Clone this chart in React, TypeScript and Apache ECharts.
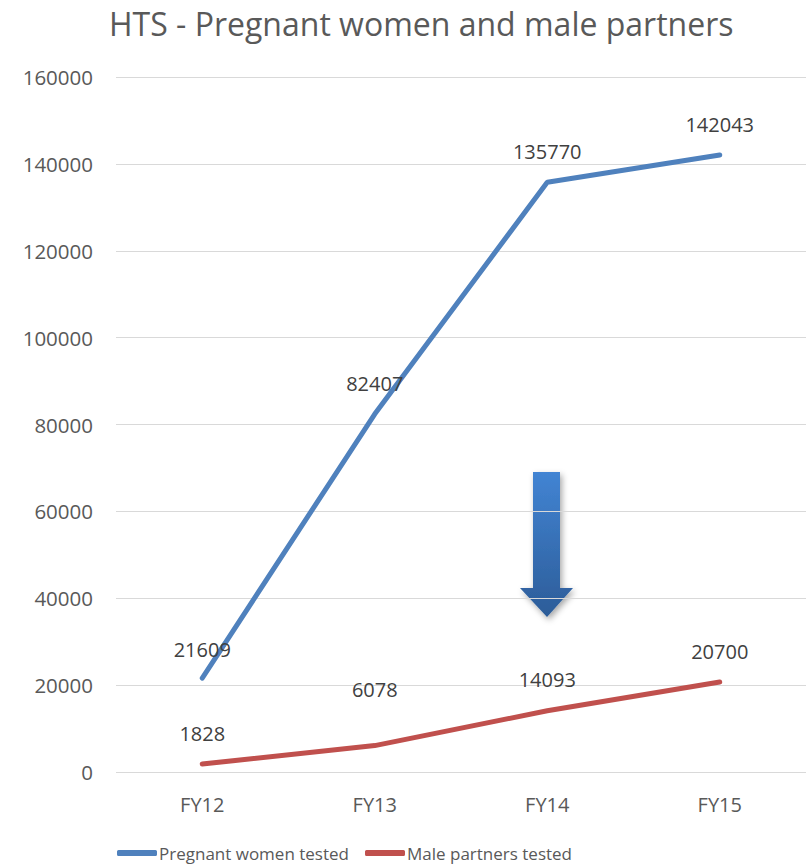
import React, { useEffect, useRef } from "react";
import * as echarts from "echarts";

const categories = ["FY12", "FY13", "FY14", "FY15"];
const pregnantWomen = [21609, 82407, 135770, 142043];
const malePartners = [1828, 6078, 14093, 20700];
const yTicks = [0, 20000, 40000, 60000, 80000, 100000, 120000, 140000, 160000];
const pregnantLabelOffsets = [[0, 2], [0, 0], [0, 0], [0, 0]];
const maleLabelOffsets = [[0, 0], [0, -25], [0, 0], [0, 0]];

const FONT = "Open Sans, sans-serif";

export default function App() {
  const ref = useRef<HTMLDivElement>(null);
  useEffect(() => {
    const chart = echarts.init(ref.current!, null, { renderer: "svg" });
    const mk = (vals: number[], offs: number[][]) =>
      vals.map((v, i) => ({ value: v, label: { offset: offs[i] } }));
    const labelStyle = {
      show: true,
      position: "top",
      fontFamily: FONT,
      fontSize: 20,
      color: "#404040",
      distance: 21,
    };
    const legendText = {
      fontFamily: FONT,
      fontSize: 17,
      lineHeight: 20,
      color: "#595959",
      padding: [0, 0, 0, -3],
    };
    chart.setOption({
      animation: false,
      backgroundColor: "#ffffff",
      title: {
        text: "HTS - Pregnant women and male partners",
        left: 104,
        top: 2,
        textStyle: { fontFamily: FONT, fontSize: 32, fontWeight: "normal", color: "#595959" },
      },
      grid: { left: 116, right: 2, top: 77, bottom: 94, containLabel: false },
      xAxis: {
        type: "category",
        data: categories,
        boundaryGap: true,
        axisLine: { show: false },
        axisTick: { show: false },
        axisLabel: { fontFamily: FONT, fontSize: 20, color: "#595959", margin: 22 },
      },
      yAxis: {
        type: "value",
        min: yTicks[0],
        max: yTicks[yTicks.length - 1],
        interval: 20000,
        axisLine: { show: false },
        axisTick: { show: false },
        splitLine: { lineStyle: { color: "#d9d9d9", width: 1 } },
        axisLabel: {
          fontFamily: FONT,
          fontSize: 20.5,
          color: "#595959",
          margin: 23,
          formatter: (v: number) => String(v),
        },
      },
      legend: [
        {
          left: 117,
          top: 843,
          padding: 0,
          itemWidth: 40,
          itemHeight: 6,
          icon: "roundRect",
          textStyle: legendText,
          data: ["Pregnant women tested"],
        },
        {
          left: 365,
          top: 843,
          padding: 0,
          itemWidth: 40,
          itemHeight: 6,
          icon: "roundRect",
          textStyle: legendText,
          data: ["Male partners tested"],
        },
      ],
      series: [
        {
          name: "Pregnant women tested",
          type: "line",
          data: mk(pregnantWomen, pregnantLabelOffsets),
          symbol: "circle",
          symbolSize: 0,
          showSymbol: true,
          lineStyle: { color: "#4f81bd", width: 5, cap: "round" },
          itemStyle: { color: "#4f81bd" },
          label: labelStyle,
        },
        {
          name: "Male partners tested",
          type: "line",
          data: mk(malePartners, maleLabelOffsets),
          symbol: "circle",
          symbolSize: 0,
          showSymbol: true,
          lineStyle: { color: "#c0504d", width: 5, cap: "round" },
          itemStyle: { color: "#c0504d" },
          label: labelStyle,
        },
      ],
      graphic: [
        {
          type: "polygon",
          shape: {
            points: [
              [533, 472], [560, 472], [560, 588], [573, 588], [547, 617], [520, 588], [533, 588],
            ],
          },
          style: {
            fill: new echarts.graphic.LinearGradient(0, 0, 0, 1, [
              { offset: 0, color: "#4284d3" },
              { offset: 1, color: "#2c5c98" },
            ]),
            shadowBlur: 6,
            shadowOffsetX: 2,
            shadowOffsetY: 3,
            shadowColor: "rgba(0,0,0,0.35)",
          },
        },
      ],
    });
    return () => chart.dispose();
  }, []);
  return <div ref={ref} style={{ width: 808, height: 866, position: "absolute", left: 0, top: 0 }} />;
}
